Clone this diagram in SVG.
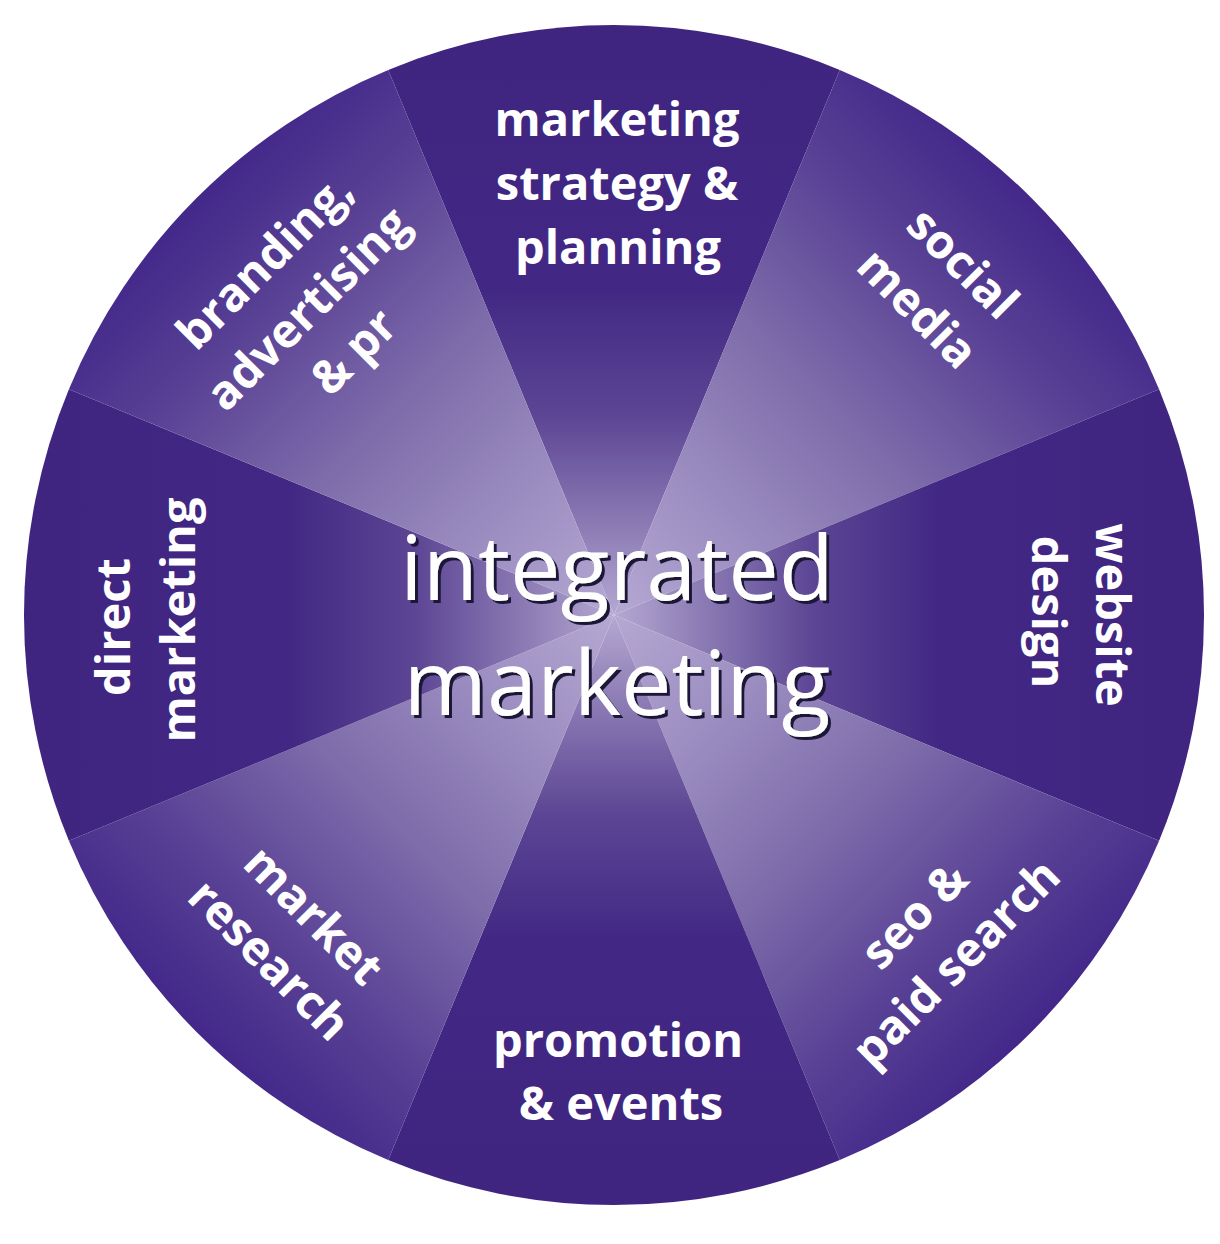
<svg xmlns="http://www.w3.org/2000/svg" width="1220" height="1244" viewBox="0 0 1220 1244">
  <style>
    .lbl { font-family: "Open Sans", "Liberation Sans", sans-serif; font-weight: 700; font-size: 47px; fill: #ffffff; text-anchor: middle; }
    .ctr { font-family: "Open Sans", "Liberation Sans", sans-serif; font-weight: 400; font-size: 90px; text-anchor: middle; fill: #ffffff; }
  </style>
  <defs>
    <linearGradient id="gc" gradientUnits="userSpaceOnUse" x1="614" y1="25" x2="614" y2="615">
      <stop offset="0" stop-color="#3f2580"/>
      <stop offset="0.45" stop-color="#422884"/>
      <stop offset="0.66" stop-color="#5c4594"/>
      <stop offset="0.86" stop-color="#8e7eb6"/>
      <stop offset="1" stop-color="#b5a8d2"/>
    </linearGradient>
    <linearGradient id="gd" gradientUnits="userSpaceOnUse" x1="614" y1="25" x2="614" y2="615">
      <stop offset="0" stop-color="#43288a"/>
      <stop offset="0.2" stop-color="#573f94"/>
      <stop offset="0.5" stop-color="#7f6dab"/>
      <stop offset="0.76" stop-color="#9c8ec1"/>
      <stop offset="1" stop-color="#b5a8d2"/>
    </linearGradient>
    <filter id="shadow" x="-10%" y="-10%" width="120%" height="130%">
      <feDropShadow dx="3" dy="3" stdDeviation="0.6" flood-color="#1e1438" flood-opacity="1"/>
    </filter>
    <path id="wedge" d="M614,615 L388.2,69.9 A590,590 0 0 1 839.8,69.9 Z"/>
  </defs>

  <g id="connectors"></g>

  <g id="sector-strategy">
    <use href="#wedge" fill="url(#gc)"/>
    <text class="lbl"><tspan x="617" y="136">marketing</tspan><tspan x="617" y="200">strategy &amp;</tspan><tspan x="618" y="264">planning</tspan></text>
  </g>

  <g id="sector-social" transform="rotate(45 614 615)">
    <use href="#wedge" fill="url(#gd)"/>
    <text class="lbl"><tspan x="612" y="136">social</tspan><tspan x="612" y="200">media</tspan></text>
  </g>

  <g id="sector-website" transform="rotate(90 614 615)">
    <use href="#wedge" fill="url(#gc)"/>
    <text class="lbl"><tspan x="614" y="133">website</tspan><tspan x="611" y="197">design</tspan></text>
  </g>

  <g id="sector-seo" transform="rotate(135 614 615)">
    <use href="#wedge" fill="url(#gd)"/>
  </g>
  <g id="label-seo" transform="rotate(-45 614 615)">
    <text class="lbl"><tspan x="614" y="1056">seo &amp;</tspan><tspan x="610" y="1119">paid search</tspan></text>
  </g>

  <g id="sector-promotion" transform="rotate(180 614 615)">
    <use href="#wedge" fill="url(#gc)"/>
  </g>
  <g id="label-promotion">
    <text class="lbl"><tspan x="618" y="1057">promotion</tspan><tspan x="621" y="1120">&amp; events</tspan></text>
  </g>

  <g id="sector-research" transform="rotate(225 614 615)">
    <use href="#wedge" fill="url(#gd)"/>
  </g>
  <g id="label-research" transform="rotate(45 614 615)">
    <text class="lbl"><tspan x="614" y="1056">market</tspan><tspan x="614" y="1119">research</tspan></text>
  </g>

  <g id="sector-direct" transform="rotate(270 614 615)">
    <use href="#wedge" fill="url(#gc)"/>
    <text class="lbl"><tspan x="602" y="131">direct</tspan><tspan x="609" y="196">marketing</tspan></text>
  </g>

  <g id="sector-branding" transform="rotate(315 614 615)">
    <use href="#wedge" fill="url(#gd)"/>
    <text class="lbl"><tspan x="617" y="134">branding,</tspan><tspan x="614" y="198">advertising</tspan><tspan x="616" y="261">&amp; pr</tspan></text>
  </g>

  <g id="center-label">
    <text class="ctr" filter="url(#shadow)"><tspan x="617" y="600">integrated</tspan><tspan x="617" y="715">marketing</tspan></text>
  </g>
</svg>
